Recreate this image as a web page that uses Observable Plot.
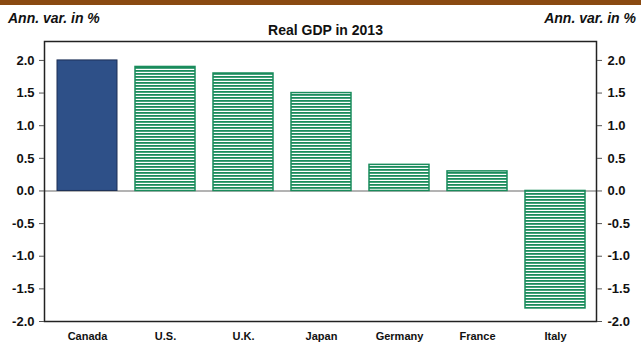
<!DOCTYPE html>
<html>
<head>
<meta charset="utf-8">
<script src="https://cdn.jsdelivr.net/npm/d3@7"></script>
<script src="https://cdn.jsdelivr.net/npm/@observablehq/plot@0.6"></script>
<style>
  html, body { margin: 0; padding: 0; background: #fff; }
  #wrap { width: 641px; height: 343px; position: relative; overflow: hidden; font-family: "Liberation Sans", Arial, sans-serif; }
  #bar { height: 5px; background: #8a4a12; }
  #head { position: relative; height: 35px; }
  .unit { position: absolute; top: 5px; font-size: 14px; font-weight: bold; font-style: italic; color: #111; }
  #ul { left: 8px; }
  #ur { right: 5px; }
  #title { position: absolute; top: 17px; left: 0; width: 641px; text-align: center; font-size: 14px; font-weight: bold; color: #111; padding-left: 10px; box-sizing: border-box; }
  svg { display: block; }
</style>
</head>
<body>
<div id="wrap">
  <div id="bar"></div>
  <div id="head">
    <span class="unit" id="ul">Ann. var. in %</span>
    <span class="unit" id="ur">Ann. var. in %</span>
    <div id="title">Real GDP in 2013</div>
  </div>
  <div id="chart"></div>
</div>
<script>
const countries = ["Canada", "U.S.", "U.K.", "Japan", "Germany", "France", "Italy"];
const gdp = [2.0, 1.9, 1.8, 1.5, 0.4, 0.3, -1.8];
const yTicks = [-2.0, -1.5, -1.0, -0.5, 0.0, 0.5, 1.0, 1.5, 2.0];

const data = countries.map((c, i) => ({country: c, value: gdp[i]}));
const highlight = data.filter(d => d.country === "Canada");
const others = data.filter(d => d.country !== "Canada");

const green = "#1a8c5c";
const fmt = d => d.toFixed(1);

const chart = Plot.plot({
  width: 641,
  height: 303,
  marginTop: 1,
  marginBottom: 22,
  marginLeft: 44,
  marginRight: 45,
  style: {fontFamily: "'Liberation Sans', Arial, sans-serif", fontSize: "12px", fontWeight: "bold", color: "#111", background: "#fff"},
  x: {domain: countries, range: [46, 597], paddingInner: 0.225, paddingOuter: 0.1125, label: null},
  y: {domain: [-2, 2.29], label: null},
  marks: [
    Plot.ruleY([0], {stroke: "#9a9a9a", strokeWidth: 1.5}),
    Plot.barY(highlight, {x: "country", y: "value", fill: "#2e5088", stroke: "#1c2f55", strokeWidth: 1}),
    Plot.barY(others, {x: "country", y: "value", fill: "url(#hatch)", stroke: green, strokeWidth: 1.5}),
    Plot.frame({stroke: "#222", strokeWidth: 1.5}),
    Plot.axisY({anchor: "left", ticks: yTicks, tickFormat: fmt, tickSize: 5, tickPadding: 5, label: null, stroke: "#555", fontSize: 13, style: {letterSpacing: "0.8px"}}),
    Plot.axisY({anchor: "right", ticks: yTicks, tickFormat: fmt, tickSize: 5, tickPadding: 6, label: null, stroke: "#555", fontSize: 13, style: {letterSpacing: "0.8px"}}),
    Plot.axisX({anchor: "bottom", tickSize: 0, tickPadding: 11, label: null, fontSize: 11, style: {letterSpacing: "0.7px"}})
  ]
});

const ns = "http://www.w3.org/2000/svg";
const defs = document.createElementNS(ns, "defs");
defs.innerHTML = `<pattern id="hatch" patternUnits="userSpaceOnUse" width="6" height="3">
  <rect x="0" y="0" width="6" height="3" fill="#ffffff"></rect>
  <rect x="0" y="0" width="6" height="1.8" fill="${green}"></rect>
</pattern>`;
chart.insertBefore(defs, chart.firstChild);

document.getElementById("chart").appendChild(chart);
</script>
</body>
</html>
